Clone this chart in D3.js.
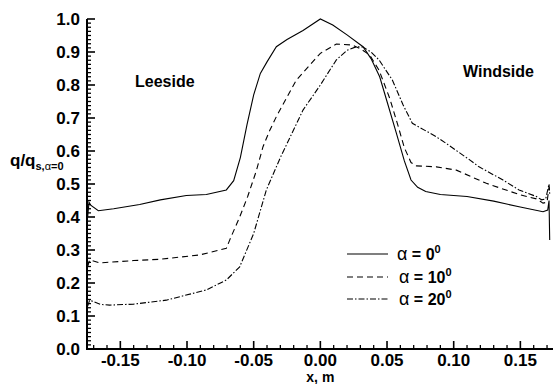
<!DOCTYPE html>
<html lang="en">
<head>
<meta charset="UTF-8">
<title>q/qs vs x</title>
<script src="https://cdn.jsdelivr.net/npm/d3@7.9.0/dist/d3.min.js"></script>
<style>
    body { margin: 0; background: #fff; overflow: hidden; }
    svg { display: block; }
    text { font-family: "Liberation Sans", Arial, Helvetica, sans-serif; font-weight: bold; fill: #000; }
</style>
</head>
<body>
<svg id="chart" width="553" height="384"></svg>
<script>
// --- data: [x (m), q/qs] ---
const alpha0 = [
    [-0.1745, 0.40], [-0.1735, 0.445], [-0.172, 0.435], [-0.1665, 0.419], [-0.155, 0.425],
    [-0.1355, 0.438], [-0.12, 0.452], [-0.1005, 0.465], [-0.0855, 0.468], [-0.0705, 0.482],
    [-0.065, 0.51], [-0.06, 0.58], [-0.055, 0.68], [-0.05, 0.77], [-0.045, 0.835],
    [-0.04, 0.87], [-0.033, 0.916], [-0.025, 0.938], [-0.013, 0.965], [0.0, 1.0],
    [0.0093, 0.982], [0.02, 0.952], [0.032, 0.916], [0.038, 0.88], [0.0445, 0.825],
    [0.05, 0.75], [0.057, 0.654], [0.063, 0.57], [0.068, 0.512], [0.073, 0.49],
    [0.079, 0.477], [0.09, 0.468], [0.11, 0.462], [0.13, 0.448], [0.149, 0.431],
    [0.167, 0.416], [0.1705, 0.421], [0.1715, 0.45], [0.172, 0.33]
];
const alpha10 = [
    [-0.1745, 0.25], [-0.173, 0.27], [-0.1655, 0.261], [-0.14, 0.268], [-0.12, 0.272],
    [-0.0905, 0.285], [-0.0705, 0.305], [-0.068, 0.33], [-0.0605, 0.40], [-0.0545, 0.462],
    [-0.048, 0.54], [-0.043, 0.613], [-0.038, 0.662], [-0.033, 0.704], [-0.018, 0.815],
    [0.0, 0.896], [0.012, 0.924], [0.024, 0.921], [0.03, 0.91], [0.037, 0.891],
    [0.044, 0.845], [0.052, 0.76], [0.058, 0.68], [0.063, 0.61], [0.068, 0.565],
    [0.072, 0.555], [0.087, 0.552], [0.102, 0.542], [0.1245, 0.502], [0.15, 0.467],
    [0.162, 0.455], [0.167, 0.442], [0.170, 0.445], [0.1715, 0.49], [0.172, 0.47]
];
const alpha20 = [
    [-0.1745, 0.13], [-0.173, 0.148], [-0.165, 0.135], [-0.158, 0.133], [-0.14, 0.136],
    [-0.1155, 0.148], [-0.0855, 0.179], [-0.0705, 0.209], [-0.0605, 0.249], [-0.05, 0.35],
    [-0.0405, 0.482], [-0.03, 0.58], [-0.013, 0.724], [0.0, 0.80], [0.012, 0.876],
    [0.02, 0.905], [0.027, 0.916], [0.032, 0.915], [0.038, 0.90], [0.044, 0.876],
    [0.054, 0.815], [0.062, 0.74], [0.069, 0.684], [0.087, 0.643], [0.094, 0.624],
    [0.112, 0.573], [0.119, 0.552], [0.137, 0.512], [0.149, 0.482], [0.162, 0.462],
    [0.166, 0.452], [0.169, 0.455], [0.1715, 0.50], [0.172, 0.47]
];

const xTicks = [-0.15, -0.10, -0.05, 0.00, 0.05, 0.10, 0.15];
const yTicks = [0.0, 0.1, 0.2, 0.3, 0.4, 0.5, 0.6, 0.7, 0.8, 0.9, 1.0];

const series = [
    { label: "0", data: alpha0, dash: null },
    { label: "10", data: alpha10, dash: "6,4" },
    { label: "20", data: alpha20, dash: "6,2,1.5,2" }
];

// --- scales ---
const x = d3.scaleLinear().domain([-0.175, 0.175]).range([87, 553.7]);
const y = d3.scaleLinear().domain([0, 1]).range([349, 19]);

const svg = d3.select("#chart");

// minor ticks
const xMinor = d3.range(-0.17, 0.1751, 0.01).filter(v => !xTicks.some(t => Math.abs(t - v) < 1e-6));
const yMinor = d3.range(0, 1.0001, 0.0125).filter(v => !yTicks.some(t => Math.abs(t - v) < 1e-6));

const axisG = svg.append("g");

axisG.selectAll(".xminor").data(xMinor).enter().append("line")
    .attr("x1", d => x(d)).attr("x2", d => x(d))
    .attr("y1", y(0)).attr("y2", y(0) - 4)
    .attr("stroke", "#000").attr("stroke-width", 1.3);
axisG.selectAll(".xmajor").data(xTicks).enter().append("line")
    .attr("x1", d => x(d)).attr("x2", d => x(d))
    .attr("y1", y(0)).attr("y2", y(0) - 8)
    .attr("stroke", "#000").attr("stroke-width", 1.6);
axisG.selectAll(".yminor").data(yMinor).enter().append("line")
    .attr("x1", x(-0.175)).attr("x2", x(-0.175) + 4)
    .attr("y1", d => y(d)).attr("y2", d => y(d))
    .attr("stroke", "#000").attr("stroke-width", 1.3);
axisG.selectAll(".ymajor").data(yTicks).enter().append("line")
    .attr("x1", x(-0.175)).attr("x2", x(-0.175) + 8)
    .attr("y1", d => y(d)).attr("y2", d => y(d))
    .attr("stroke", "#000").attr("stroke-width", 1.6);

// axis lines
axisG.append("line")
    .attr("x1", x(-0.175)).attr("x2", x(-0.175))
    .attr("y1", y(1)).attr("y2", y(0) + 1)
    .attr("stroke", "#000").attr("stroke-width", 2);
axisG.append("line")
    .attr("x1", x(-0.175) - 1).attr("x2", 553)
    .attr("y1", y(0)).attr("y2", y(0))
    .attr("stroke", "#000").attr("stroke-width", 2);

// tick labels
axisG.selectAll(".xlab").data(xTicks).enter().append("text")
    .attr("x", d => x(d)).attr("y", 366)
    .attr("text-anchor", "middle")
    .style("font-size", "17px")
    .text(d => d3.format(".2f")(d).replace("−", "-"));
axisG.selectAll(".ylab").data(yTicks).enter().append("text")
    .attr("x", 80).attr("y", d => y(d) + 6)
    .attr("text-anchor", "end")
    .style("font-size", "17px")
    .text(d => d3.format(".1f")(d));

// axis titles
svg.append("text")
    .attr("x", x(0)).attr("y", 382)
    .attr("text-anchor", "middle")
    .style("font-size", "14px")
    .text("x, m");

const yTitle = svg.append("text").attr("x", 10).attr("y", 166).style("font-size", "17px");
yTitle.append("tspan").text("q/q");
yTitle.append("tspan").attr("dy", 4).style("font-size", "11px").text("s,");
yTitle.append("tspan").style("font-size", "11px").style("font-weight", "normal").text("α");
yTitle.append("tspan").style("font-size", "11px").text("=0");

// annotations
svg.append("text").attr("x", 135).attr("y", 87).style("font-size", "16px").text("Leeside");
svg.append("text").attr("x", 463).attr("y", 77).style("font-size", "16px").text("Windside");

// curves
const line = d3.line().x(d => x(d[0])).y(d => y(d[1]));
svg.append("g").selectAll("path").data(series).enter().append("path")
    .attr("d", d => line(d.data))
    .attr("fill", "none")
    .attr("stroke", "#000")
    .attr("stroke-width", 1.1)
    .attr("stroke-dasharray", d => d.dash);

// legend
const legend = svg.append("g");
const legY = [254, 277, 299];
series.forEach((s, i) => {
    legend.append("line")
        .attr("x1", 347).attr("x2", 388)
        .attr("y1", legY[i]).attr("y2", legY[i])
        .attr("stroke", "#000").attr("stroke-width", 1.1)
        .attr("stroke-dasharray", s.dash);
    const t = legend.append("text")
        .attr("x", i === 0 ? 397 : 399).attr("y", legY[i] + 6)
        .style("font-size", "16px");
    t.append("tspan").style("font-weight", "normal").style("font-size", "18px").text("α");
    t.append("tspan").text(" = " + s.label);
    t.append("tspan").attr("dy", -7).style("font-size", "11px").text("0");
});
</script>
</body>
</html>
